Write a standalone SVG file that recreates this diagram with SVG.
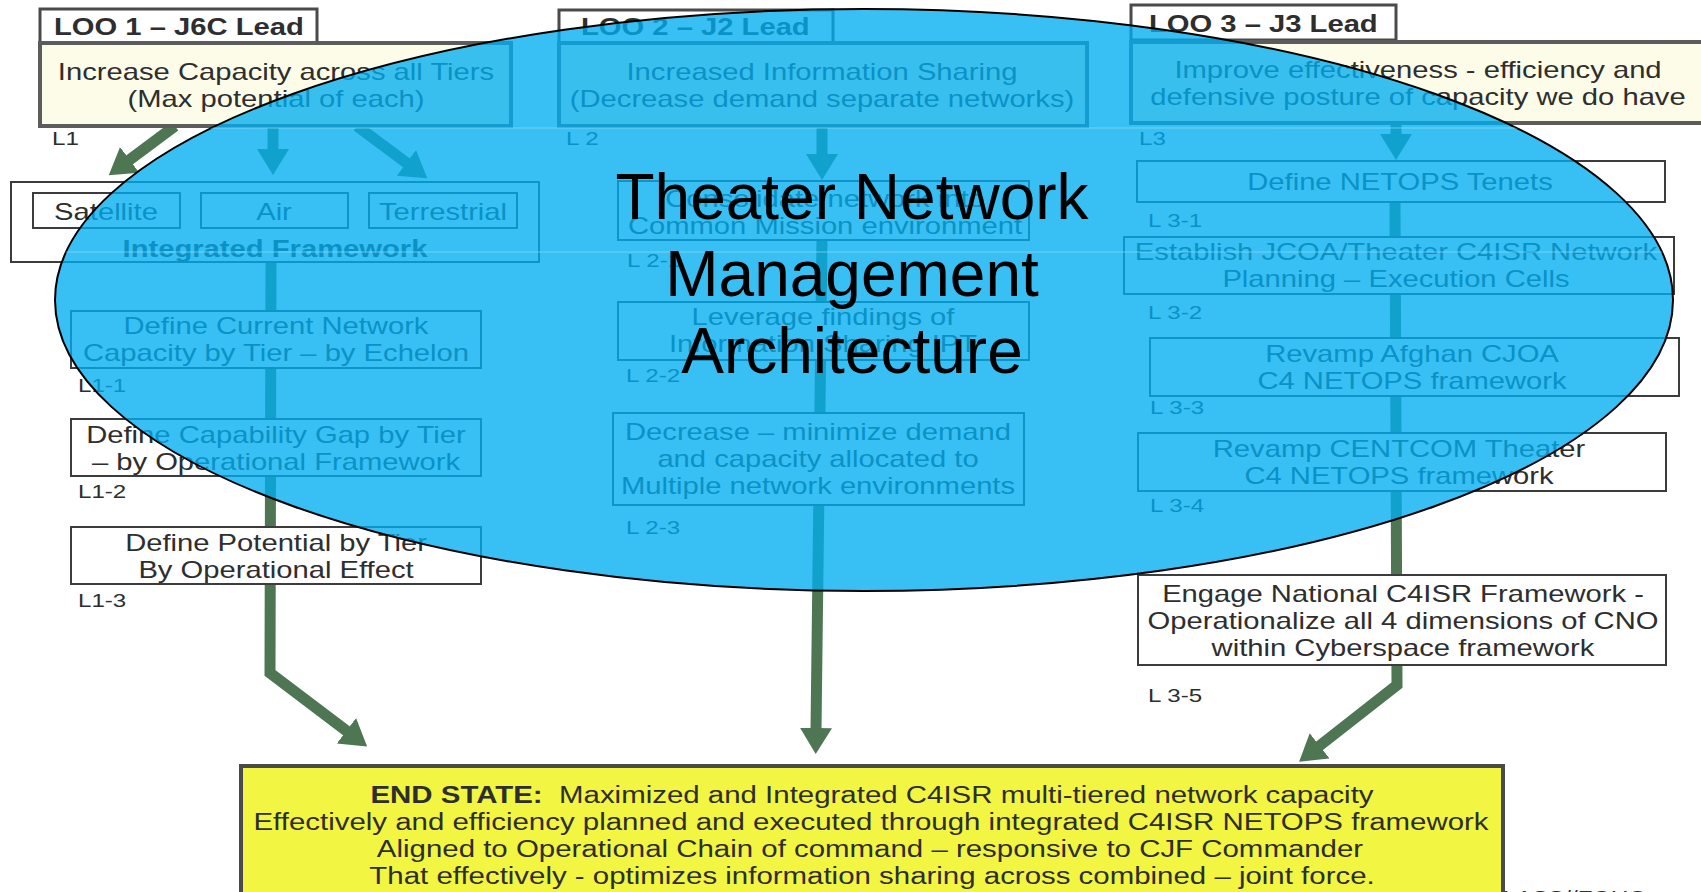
<svg xmlns="http://www.w3.org/2000/svg" width="1701" height="892" viewBox="0 0 1701 892">
<style>
.bg{fill:#ffffff}
.box{fill:#ffffff;stroke:#3c3c3c;stroke-width:2}
.loo{fill:#FCFCE9;stroke:#5c5c5c;stroke-width:4}
.tab{fill:#ffffff;stroke:#4a4a4a;stroke-width:3}
.fw{fill:#ffffff;stroke:#3c3c3c;stroke-width:2}
.end{fill:#F2F542;stroke:#4a4a4a;stroke-width:4}
.t{font-family:"Liberation Sans",Arial,sans-serif;font-size:23px;fill:#2e2e2e;text-anchor:middle}
.tl{font-family:"Liberation Sans",Arial,sans-serif;font-size:23px;fill:#2e2e2e;text-anchor:start}
.b{font-weight:bold}
.lbl{font-family:"Liberation Sans",Arial,sans-serif;font-size:19px;fill:#2e2e2e;text-anchor:start}
.conn{fill:none;stroke:#4E7652;stroke-width:11;stroke-linejoin:miter}
.title{font-family:"Liberation Sans",Arial,sans-serif;font-size:64px;fill:#000000;text-anchor:middle}
.oval{fill:#00ADEF;fill-opacity:0.78;stroke:#000000;stroke-width:2}
.scan{stroke:#8fdcf8;stroke-width:1.2;opacity:0.7}
</style>
<defs>
<marker id="ah" markerUnits="userSpaceOnUse" markerWidth="28" markerHeight="34" refX="2" refY="16" orient="auto">
<path d="M0,0 L26,16 L0,32 z" fill="#4E7652"/>
</marker>
<clipPath id="ovclip"><ellipse cx="864" cy="300" rx="809" ry="291"/></clipPath>
</defs>
<rect class="bg" x="0" y="0" width="1701" height="892"/>

<g id="connectors">
<path class="conn" d="M175,126 L128,161" marker-end="url(#ah)"/>
<path class="conn" d="M273,126 L273,151" marker-end="url(#ah)"/>
<path class="conn" d="M357,126 L408,164" marker-end="url(#ah)"/>
<path class="conn" d="M271,262 L270,673 L348,732" marker-end="url(#ah)"/>
<path class="conn" d="M822,126 L822,156" marker-end="url(#ah)"/>
<path class="conn" d="M822,240 L816,730" marker-end="url(#ah)"/>
<path class="conn" d="M1396,124 L1396,136" marker-end="url(#ah)"/>
<path class="conn" d="M1395,201 L1397,685 L1318,747" marker-end="url(#ah)"/>
</g>

<g id="loo1-tab">
<rect class="tab" x="40" y="9" width="277" height="34"/>
<text class="tl b" transform="translate(54,35) scale(1.27,1)">LOO 1 – J6C Lead</text>
</g>
<g id="loo1">
<rect class="loo" x="40" y="43" width="471" height="83"/>
<text class="t" transform="translate(276,80) scale(1.27,1)">Increase Capacity across all Tiers</text>
<text class="t" transform="translate(276,107) scale(1.27,1)">(Max potential of each)</text>
<text class="lbl" transform="translate(52,145) scale(1.27,1)">L1</text>
</g>
<g id="framework">
<rect class="fw" x="11" y="182" width="528" height="80"/>
<rect class="box" x="33" y="193" width="147" height="35"/>
<text class="t" transform="translate(106,220) scale(1.27,1)">Satellite</text>
<rect class="box" x="201" y="193" width="147" height="35"/>
<text class="t" transform="translate(274,220) scale(1.27,1)">Air</text>
<rect class="box" x="369" y="193" width="148" height="35"/>
<text class="t" transform="translate(443,220) scale(1.27,1)">Terrestrial</text>
<text class="t b" transform="translate(275,257) scale(1.27,1)">Integrated Framework</text>
</g>
<g id="l1-1">
<rect class="box" x="71" y="311" width="410" height="57"/>
<text class="t" transform="translate(276,334) scale(1.27,1)">Define Current Network</text>
<text class="t" transform="translate(276,361) scale(1.27,1)">Capacity by Tier – by Echelon</text>
<text class="lbl" transform="translate(78,392) scale(1.27,1)">L1-1</text>
</g>
<g id="l1-2">
<rect class="box" x="71" y="419" width="410" height="57"/>
<text class="t" transform="translate(276,443) scale(1.27,1)">Define Capability Gap by Tier</text>
<text class="t" transform="translate(276,470) scale(1.27,1)">– by Operational Framework</text>
<text class="lbl" transform="translate(78,498) scale(1.27,1)">L1-2</text>
</g>
<g id="l1-3">
<rect class="box" x="71" y="527" width="410" height="57"/>
<text class="t" transform="translate(276,551) scale(1.27,1)">Define Potential by Tier</text>
<text class="t" transform="translate(276,578) scale(1.27,1)">By Operational Effect</text>
<text class="lbl" transform="translate(78,607) scale(1.27,1)">L1-3</text>
</g>

<g id="loo2-tab">
<rect class="tab" x="559" y="10" width="274" height="33"/>
<text class="tl b" transform="translate(581,35) scale(1.27,1)">LOO 2 – J2 Lead</text>
</g>
<g id="loo2">
<rect class="loo" x="559" y="43" width="528" height="83"/>
<text class="t" transform="translate(822,80) scale(1.27,1)">Increased Information Sharing</text>
<text class="t" transform="translate(822,107) scale(1.27,1)">(Decrease demand separate networks)</text>
<text class="lbl" transform="translate(566,145) scale(1.27,1)">L 2</text>
</g>
<g id="l2-1">
<rect class="box" x="618" y="181" width="411" height="59"/>
<text class="t" transform="translate(825,207) scale(1.27,1)">Consolidate network into</text>
<text class="t" transform="translate(825,234) scale(1.27,1)">Common Mission environment</text>
<text class="lbl" transform="translate(627,267) scale(1.27,1)">L 2-1</text>
</g>
<g id="l2-2">
<rect class="box" x="618" y="302" width="411" height="58"/>
<text class="t" transform="translate(823,325) scale(1.27,1)">Leverage findings of</text>
<text class="t" transform="translate(823,352) scale(1.27,1)">Information Sharing IPT</text>
<text class="lbl" transform="translate(626,382) scale(1.27,1)">L 2-2</text>
</g>
<g id="l2-3">
<rect class="box" x="613" y="413" width="411" height="92"/>
<text class="t" transform="translate(818,440) scale(1.27,1)">Decrease – minimize demand</text>
<text class="t" transform="translate(818,467) scale(1.27,1)">and capacity allocated to</text>
<text class="t" transform="translate(818,494) scale(1.27,1)">Multiple network environments</text>
<text class="lbl" transform="translate(626,534) scale(1.27,1)">L 2-3</text>
</g>

<g id="loo3-tab">
<rect class="tab" x="1131" y="5" width="265" height="35"/>
<text class="tl b" transform="translate(1149,32) scale(1.27,1)">LOO 3 – J3 Lead</text>
</g>
<g id="loo3">
<rect class="loo" x="1131" y="42" width="590" height="81"/>
<text class="t" transform="translate(1418,78) scale(1.27,1)">Improve effectiveness - efficiency and</text>
<text class="t" transform="translate(1418,105) scale(1.27,1)">defensive posture of capacity we do have</text>
<text class="lbl" transform="translate(1139,145) scale(1.27,1)">L3</text>
</g>
<g id="l3-1">
<rect class="box" x="1137" y="161" width="528" height="41"/>
<text class="t" transform="translate(1400,190) scale(1.27,1)">Define NETOPS Tenets</text>
<text class="lbl" transform="translate(1148,227) scale(1.27,1)">L 3-1</text>
</g>
<g id="l3-2">
<rect class="box" x="1124" y="237" width="550" height="57"/>
<text class="t" transform="translate(1396,260) scale(1.27,1)">Establish JCOA/Theater C4ISR Network</text>
<text class="t" transform="translate(1396,287) scale(1.27,1)">Planning – Execution Cells</text>
<text class="lbl" transform="translate(1148,319) scale(1.27,1)">L 3-2</text>
</g>
<g id="l3-3">
<rect class="box" x="1150" y="338" width="529" height="58"/>
<text class="t" transform="translate(1412,362) scale(1.27,1)">Revamp Afghan CJOA</text>
<text class="t" transform="translate(1412,389) scale(1.27,1)">C4 NETOPS framework</text>
<text class="lbl" transform="translate(1150,414) scale(1.27,1)">L 3-3</text>
</g>
<g id="l3-4">
<rect class="box" x="1138" y="433" width="528" height="58"/>
<text class="t" transform="translate(1399,457) scale(1.27,1)">Revamp CENTCOM Theater</text>
<text class="t" transform="translate(1399,484) scale(1.27,1)">C4 NETOPS framework</text>
<text class="lbl" transform="translate(1150,512) scale(1.27,1)">L 3-4</text>
</g>
<g id="l3-5">
<rect class="box" x="1138" y="575" width="528" height="90"/>
<text class="t" transform="translate(1403,602) scale(1.27,1)">Engage National C4ISR Framework -</text>
<text class="t" transform="translate(1403,629) scale(1.27,1)">Operationalize all 4 dimensions of CNO</text>
<text class="t" transform="translate(1403,656) scale(1.27,1)">within Cyberspace framework</text>
<text class="lbl" transform="translate(1148,702) scale(1.27,1)">L 3-5</text>
</g>

<g id="end-state">
<rect class="end" x="241" y="766" width="1262" height="140"/>
<text class="t" transform="translate(872,803) scale(1.28,1)"><tspan class="b">END STATE:</tspan>&#160; Maximized and Integrated C4ISR multi-tiered network capacity</text>
<text class="t" transform="translate(871,830) scale(1.28,1)">Effectively and efficiency planned and executed through integrated C4ISR NETOPS framework</text>
<text class="t" transform="translate(870,857) scale(1.28,1)">Aligned to Operational Chain of command – responsive to CJF Commander</text>
<text class="t" transform="translate(872,884) scale(1.28,1)">That effectively - optimizes information sharing across combined – joint force.</text>
</g>
<g id="marking">
<text class="tl" transform="translate(1503,905) scale(1.2,1)" style="font-size:20px">LASS//FOUO</text>
</g>

<g id="overlay">
<ellipse class="oval" cx="864" cy="300" rx="809" ry="291"/>
<g clip-path="url(#ovclip)">
<line class="scan" x1="40" y1="128" x2="1690" y2="128"/>
<line class="scan" x1="40" y1="252" x2="1690" y2="252"/>
</g>
<text class="title" x="852" y="219">Theater Network</text>
<text class="title" x="852" y="296">Management</text>
<text class="title" x="852" y="373">Architecture</text>
</g>
</svg>
